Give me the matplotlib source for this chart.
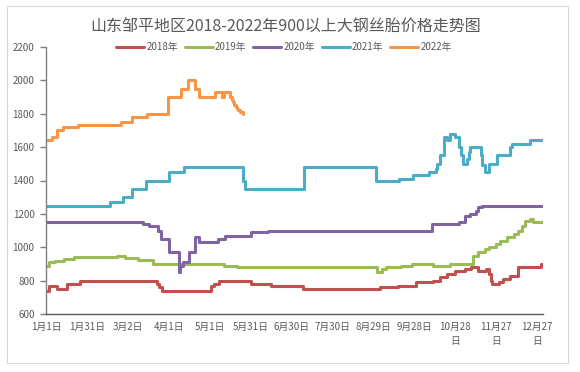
import matplotlib
matplotlib.use("Agg")
import matplotlib.pyplot as plt
from matplotlib.patches import Rectangle

plt.rcParams['font.family'] = ['Noto Sans CJK SC', 'DejaVu Sans']

title = "山东邹平地区2018-2022年900以上大钢丝胎价格走势图"
tick_days = [0, 30, 60, 90, 120, 150, 180, 210, 240, 270, 300, 330, 360]
tick_labels = ["1月1日", "1月31日", "3月2日", "4月1日", "5月1日", "5月31日", "6月30日",
               "7月30日", "8月29日", "9月28日", "10月28\n日", "11月27\n日", "12月27\n日"]
y_ticks = [600, 800, 1000, 1200, 1400, 1600, 1800, 2000, 2200]

# day-of-year where the price changes, and the price from that day on
d18 = [0, 2, 8, 15, 25, 81, 83, 85, 121, 123, 127, 150, 165, 188, 245, 258, 271, 284, 289,
       294, 300, 307, 312, 317, 323, 325, 326, 327, 332, 335, 340, 346, 363]
v18 = [740, 770, 750, 780, 800, 780, 760, 735, 770, 780, 800, 780, 770, 750, 760, 770, 790, 800, 820,
       840, 860, 870, 880, 860, 870, 840, 800, 780, 790, 810, 830, 880, 900]
end18 = 364

d19 = [0, 2, 6, 13, 20, 52, 58, 67, 78, 130, 140, 243, 246, 249, 260, 268, 284, 296, 313,
       317, 322, 325, 330, 333, 338, 343, 346, 349, 351, 355, 357]
v19 = [890, 910, 920, 930, 940, 950, 935, 925, 900, 890, 880, 850, 870, 880, 890, 900, 890, 900, 950,
       970, 990, 1000, 1020, 1040, 1060, 1080, 1100, 1130, 1160, 1170, 1150]
end19 = 364

d20 = [0, 71, 75, 82, 84, 90, 97, 98, 100, 105, 109, 112, 114, 126, 131, 150, 163,
       283, 303, 307, 311, 315, 317, 320]
v20 = [1150, 1140, 1130, 1100, 1050, 970, 850, 890, 910, 970, 1060, 1030, 1030, 1050, 1070, 1090, 1100,
       1140, 1150, 1190, 1200, 1220, 1240, 1250]
end20 = 364

d21 = [0, 47, 56, 63, 73, 90, 101, 144, 146, 189, 242, 259, 269, 281, 286, 287, 289, 292, 294,
       296, 300, 303, 304, 306, 309, 310, 311, 319, 320, 322, 325, 331, 340, 342, 355]
v21 = [1250, 1270, 1300, 1350, 1400, 1450, 1480, 1400, 1350, 1480, 1400, 1410, 1430, 1450, 1470, 1500, 1550, 1660, 1640,
       1680, 1660, 1600, 1550, 1500, 1530, 1570, 1600, 1550, 1490, 1450, 1500, 1550, 1600, 1620, 1640]
end21 = 364

d22 = [0, 4, 8, 12, 23, 55, 63, 74, 89, 99, 104, 109, 112, 124, 129, 130, 135, 136, 137,
       138, 139, 140, 141, 142, 144]
v22 = [1640, 1660, 1700, 1720, 1730, 1750, 1780, 1800, 1900, 1950, 2000, 1950, 1900, 1930, 1900, 1930, 1900, 1880, 1870,
       1850, 1840, 1830, 1820, 1810, 1800]
end22 = 144

series = [("2018年", d18, v18, end18, "#C0504D"),
          ("2019年", d19, v19, end19, "#9BBB59"),
          ("2020年", d20, v20, end20, "#8064A2"),
          ("2021年", d21, v21, end21, "#4BACC6"),
          ("2022年", d22, v22, end22, "#F79646")]

W, H = 580, 372
fig = plt.figure(figsize=(W / 100, H / 100), dpi=100)
fig.patches.append(Rectangle((7 / W, 1 - 363 / H), (568 - 7) / W, (363 - 6) / H,
                             transform=fig.transFigure, fill=False, edgecolor="#d9d9d9", lw=0.8))

ax = fig.add_axes([45.7 / W, 1 - 314 / H, (543 - 45.7) / W, (314 - 47) / H])
for name, d, v, end, c in series:
    xs = list(d) + ([end] if end > d[-1] else [])
    ys = list(v) + ([v[-1]] if end > d[-1] else [])
    ax.plot(xs, ys, drawstyle="steps-post", color=c, lw=2.2, label=name,
            solid_joinstyle="round", solid_capstyle="round")

ax.set_xlim(-0.5, 364.5)
ax.set_ylim(600, 2200)
ax.set_yticks(y_ticks)
ax.set_yticklabels([str(t) for t in y_ticks])
ax.set_xticks(tick_days)
ax.set_xticklabels(tick_labels, linespacing=1.45)
for s in ["top", "right"]:
    ax.spines[s].set_visible(False)
ax.spines["left"].set_color("#7f7f7f")
ax.spines["bottom"].set_color("#595959")
ax.spines["left"].set_linewidth(1.0)
ax.spines["bottom"].set_linewidth(1.0)
ax.tick_params(axis="y", length=4, width=1.0, color="#7f7f7f", labelsize=7, labelcolor="#595959", pad=4)
ax.tick_params(axis="x", length=0, labelsize=7, labelcolor="#595959", pad=6)

fig.text(0.493, 1 - 27 / H, title, ha="center", va="center", fontsize=11.5, color="#595959")
leg = fig.legend(loc="center", bbox_to_anchor=(284 / W, 1 - 47 / H), ncol=5, frameon=False,
                 fontsize=7, handlelength=2.9, handletextpad=0.2, columnspacing=0.7,
                 labelcolor="#595959")

fig.savefig("out.png", dpi=100)
